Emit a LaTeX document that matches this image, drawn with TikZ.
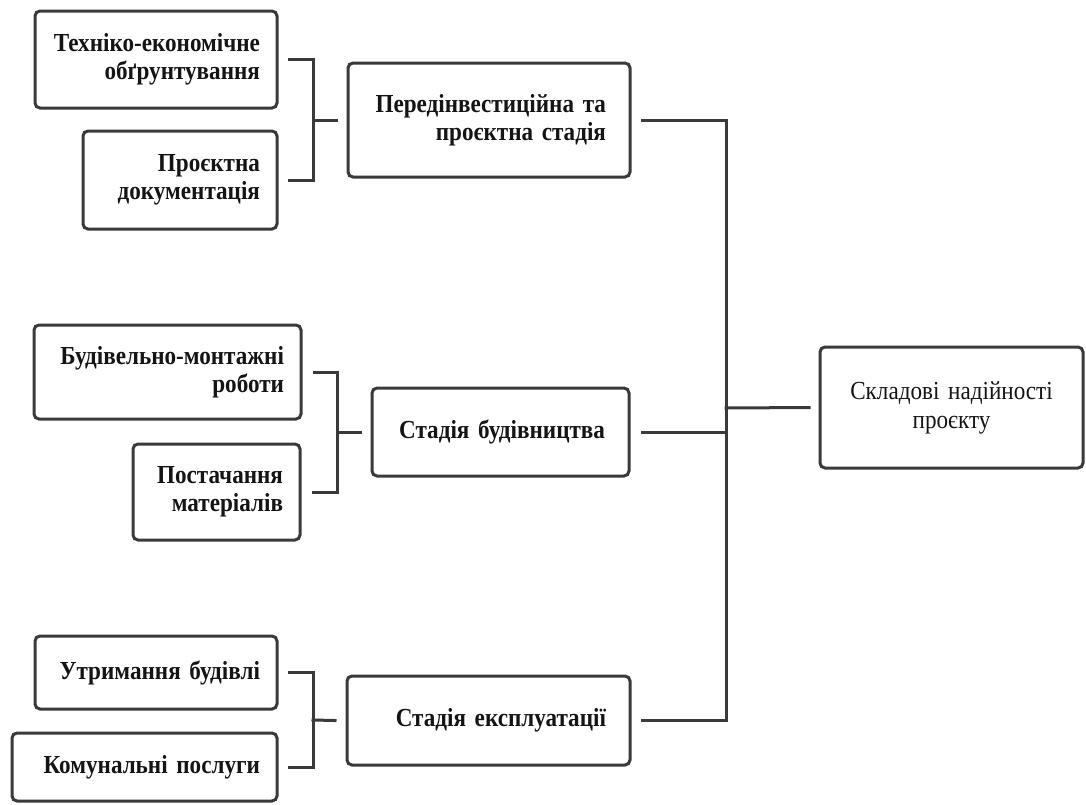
\documentclass[tikz,border=0pt]{standalone}
\usepackage{fontspec}
\setmainfont[FakeStretch=0.89, WordSpace=0.8]{Liberation Serif}
\definecolor{linec}{HTML}{3A3A3A}
\definecolor{txt}{HTML}{141414}
\begin{document}
\begin{tikzpicture}[x=1pt,y=1pt,
  box/.style={draw=linec, line width=3pt, rounded corners=5pt, outer sep=0pt,
    font=\fontsize{26}{28}\selectfont\bfseries, text=txt, inner ysep=2pt},
  leaf/.style={box, align=right, inner xsep=17pt},
  stage/.style={box, align=right, inner xsep=24pt},
  goal/.style={box, align=center, inner xsep=12pt, font=\fontsize{26}{29}\selectfont},
  conn/.style={draw=linec, line width=3pt, line cap=rect}]
\useasboundingbox (0,0) rectangle (1086,-804);

% left-side components
\node[leaf, text width=208pt, minimum height=97pt] (A) at (156,-59.5) {Техніко-економічне\\обґрунтування};
\node[leaf, text width=160pt, minimum height=98pt] (B) at (180,-180) {Проєктна\\документація};
\node[leaf, text width=233pt, minimum height=94pt] (D) at (167.5,-372) {Будівельно-монтажні\\роботи};
\node[leaf, text width=133pt, minimum height=96pt] (E) at (216.5,-492) {Постачання\\матеріалів};
\node[leaf, text width=208pt, minimum height=73pt] (H) at (156,-672.5) {Утримання будівлі};
\node[leaf, text width=231pt, minimum height=68pt] (I) at (144.5,-767) {Комунальні послуги};

% stages
\node[stage, text width=234pt, minimum height=114pt] (C) at (489,-120) {Передінвестиційна та\\проєктна стадія};
\node[stage, text width=209pt, minimum height=88pt] (F) at (500.5,-432) {Стадія будівництва};
\node[stage, text width=235pt, minimum height=89pt] (J) at (488.5,-720.5) {Стадія експлуатації};

% goal
\node[goal, text width=239pt, minimum height=121pt] (G) at (951.5,-407.5) {Складові надійності\\проєкту};

% junctions
\coordinate (j1) at (313,-120);
\coordinate (j2) at (337,-432);
\coordinate (j3) at (313,-720);
\coordinate (bus) at (726,-408);

\draw[conn] ([xshift=12pt]A.east) -| (j1);
\draw[conn] ([xshift=12pt]B.east) -| (j1);
\draw[conn] (j1) -- ([xshift=-12pt]C.west);

\draw[conn] ([xshift=13pt]D.east) -| (j2);
\draw[conn] ([xshift=13pt]E.east) -| (j2);
\draw[conn] (j2) -- ([xshift=-12pt]F.west);

\draw[conn] ([xshift=12pt]H.east) -| (j3);
\draw[conn] ([xshift=12pt]I.east) -| (j3);
\draw[conn] (j3) -- ([xshift=-12pt]J.west);

\draw[conn] ([xshift=12pt]C.east) -| (bus);
\draw[conn] ([xshift=13pt]F.east) -| (bus);
\draw[conn] ([xshift=12pt]J.east) -| (bus);
\draw[conn] (bus) -- ([xshift=-11pt]G.west);
\end{tikzpicture}
\end{document}
